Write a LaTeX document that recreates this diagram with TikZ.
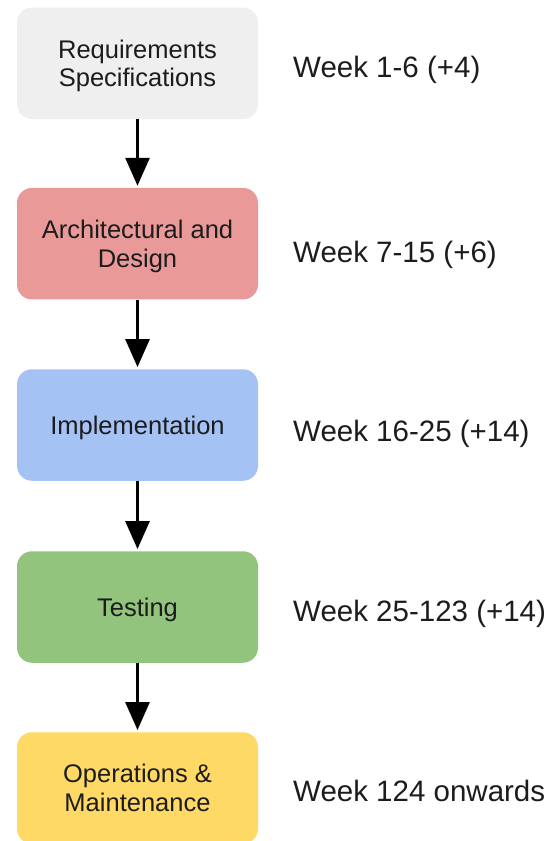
\documentclass[tikz,border=0pt]{standalone}
\usepackage{fontspec}
\setmainfont{Liberation Sans}
\usetikzlibrary{arrows.meta}
\definecolor{reqgray}{HTML}{EFEFEF}
\definecolor{archred}{HTML}{EA9999}
\definecolor{implblue}{HTML}{A4C2F4}
\definecolor{testgreen}{HTML}{93C47D}
\definecolor{opsyellow}{HTML}{FFD966}
\definecolor{ink}{HTML}{1C1C1C}
\tikzset{
  phase/.style={draw=none, rounded corners=15pt, minimum width=241pt, minimum height=111.5pt,
    inner sep=0pt},
  phasetext/.style={inner sep=0pt, align=center, text=ink, yshift=-2.7pt,
    font=\fontsize{25.5pt}{28.8pt}\selectfont,
    execute at begin node=\vphantom{A},
    execute at end node=\vphantom{g}},
  weeklabel/.style={anchor=base west, inner sep=0pt, text=ink,
    font=\fontsize{29.5pt}{34pt}\selectfont},
  flow/.style={line width=3pt, -{Triangle[width=24pt,length=28pt]}, black}
}
\begin{document}
\begin{tikzpicture}[x=1pt, y=-1pt]
  \useasboundingbox (0,0) rectangle (552,841);
  % phase boxes (the last one runs past the lower edge)
  \begin{scope}
    \clip (0,0) rectangle (552,841);
    \node[phase, fill=reqgray]   (req)  at (137.5, 63.3)  {};
    \node[phase, fill=archred]   (arch) at (137.5, 243.7) {};
    \node[phase, fill=implblue]  (impl) at (137.5, 425)   {};
    \node[phase, fill=testgreen] (test) at (137.5, 607)   {};
    \node[phase, fill=opsyellow] (ops)  at (137.5, 788)   {};
  \end{scope}
  \node[phasetext] (reqt)  at (req.center)  {Requirements\\Specifications};
  \node[phasetext] (archt) at (arch.center) {Architectural and\\Design};
  \node[phasetext] (implt) at (impl.center) {Implementation};
  \node[phasetext] (testt) at (test.center) {Testing};
  \node[phasetext] (opst)  at (ops.center)  {Operations \&\\Maintenance};
  % flow between phases
  \draw[flow] (req.south)  -- ([yshift=2pt]arch.north);
  \draw[flow] (arch.south) -- ([yshift=2pt]impl.north);
  \draw[flow] (impl.south) -- ([yshift=2pt]test.north);
  \draw[flow] (test.south) -- ([yshift=2pt]ops.north);
  % schedule
  \node[weeklabel] (w1) at (293, 77)    {Week 1-6 (+4)};
  \node[weeklabel] (w2) at (293, 262)   {Week 7-15 (+6)};
  \node[weeklabel] (w3) at (293, 441.7) {Week 16-25 (+14)};
  \node[weeklabel] (w4) at (293, 621.7) {Week 25-123 (+14)};
  \node[weeklabel] (w5) at (293, 801.7) {Week 124 onwards};
\end{tikzpicture}
\end{document}
